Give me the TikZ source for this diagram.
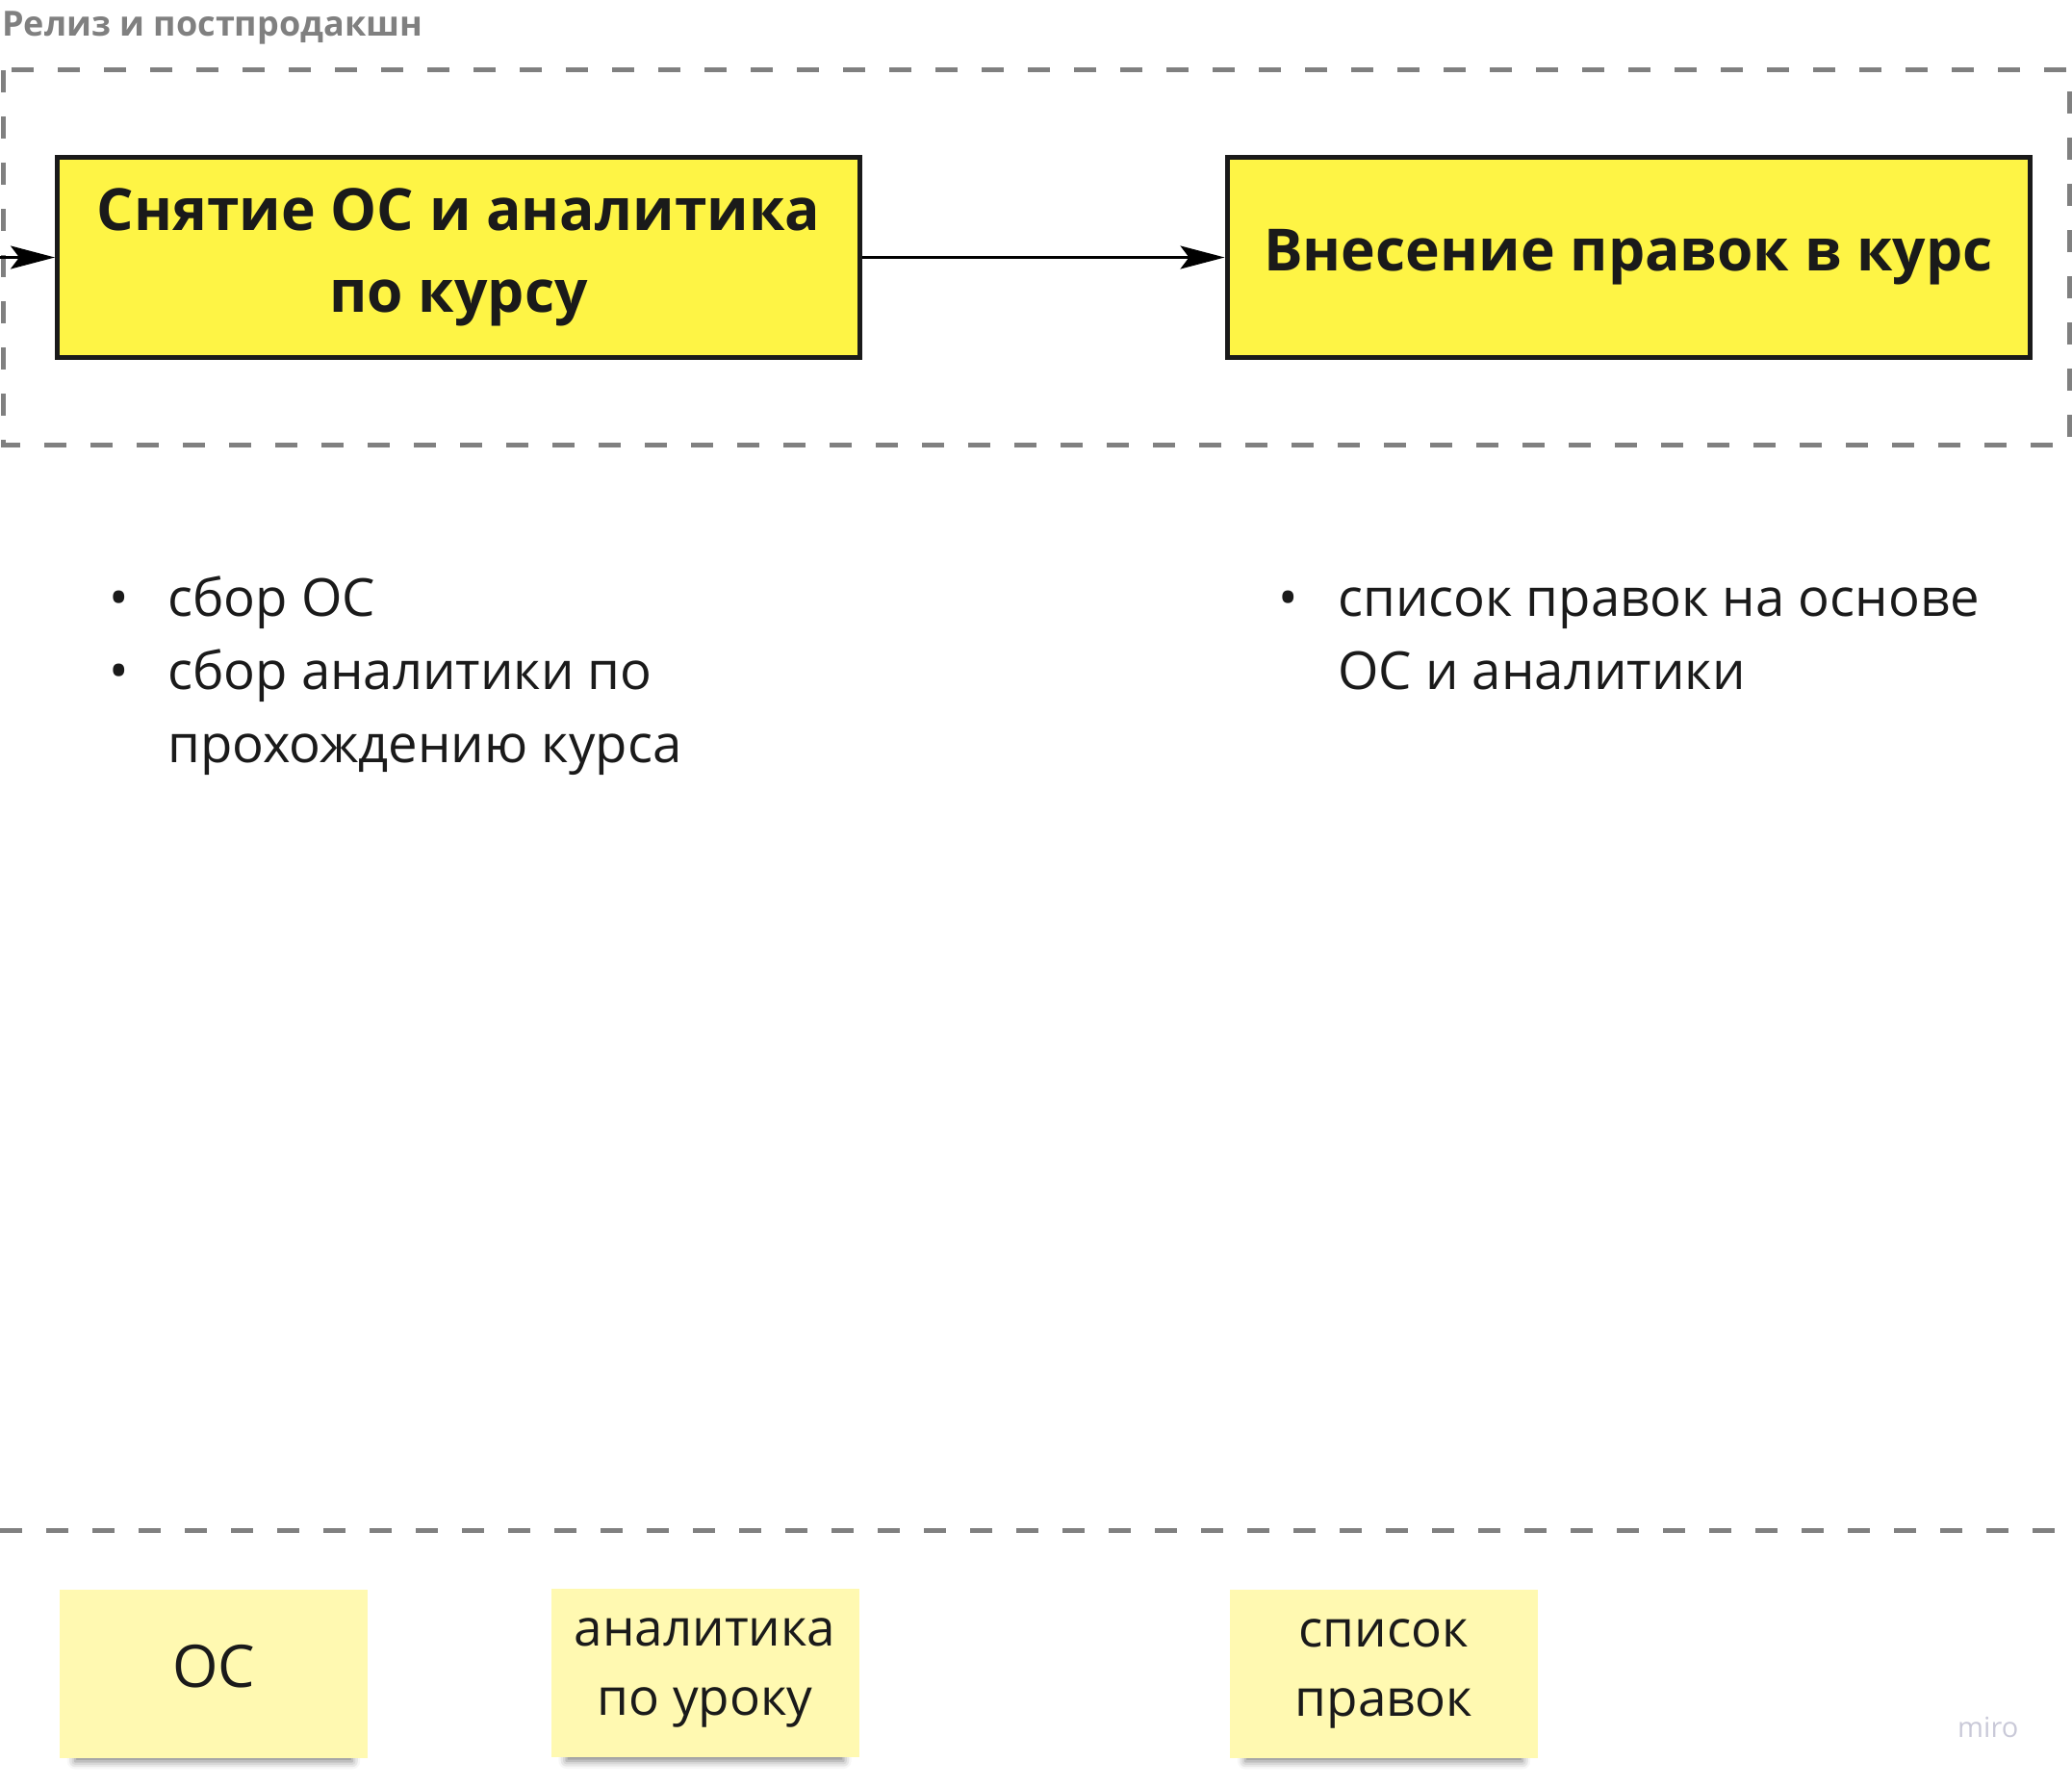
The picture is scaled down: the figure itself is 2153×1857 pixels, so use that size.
\documentclass[tikz,border=0pt]{standalone}
\usepackage{fontspec}
\setmainfont{Open Sans}
\usetikzlibrary{arrows.meta,positioning,shadows.blur}
\definecolor{framegray}{HTML}{808080}
\definecolor{stageyellow}{HTML}{FEF445}
\definecolor{ink}{HTML}{1A1A1A}
\definecolor{stickyyellow}{HTML}{FFF9B1}
\definecolor{brandgray}{HTML}{C9C9D8}

\begin{document}
\begin{tikzpicture}[x=1pt,y=-1pt,
    frame/.style={draw=framegray,line width=5pt,dash pattern=on 23pt off 25pt},
    stage/.style={draw=ink,line width=5pt,fill=stageyellow,text=ink,minimum width=834pt,minimum height=208pt,inner sep=0pt,align=center,font=\fontsize{60.5}{85}\selectfont\bfseries},
    flow/.style={-{Stealth[length=46pt,width=24pt,inset=9pt]},line width=2.5pt,draw=black},
    item/.style={anchor=base west,inner sep=0pt,text=ink,font=\fontsize{54.5}{76}\selectfont},
    dot/.style={anchor=base,inner sep=0pt,text=ink,font=\fontsize{54.5}{76}\selectfont},
    sticky/.style={fill=stickyyellow,text=ink,minimum width=320pt,minimum height=175pt,inner sep=0pt,align=center,font=\fontsize{53}{72}\selectfont,
        blur shadow={shadow xshift=0pt,shadow yshift=-14pt,shadow scale=0.9,shadow blur radius=9pt,shadow opacity=50}}]
        \useasboundingbox (0,0) rectangle (2153,1857);
        \node[anchor=base west,inner sep=0pt,text=framegray,font=\fontsize{36}{42}\selectfont\bfseries] (title) at (2,38) {Релиз и постпродакшн};
        \draw[frame] (3,73) rectangle (2150,462);
        \node[stage] (collect) at (476.5,267.5) {Снятие ОС и аналитика\\по курсу};
        \node[stage] (revise) at (1692,267.5) {Внесение правок в курс};
        \coordinate (entry) at (0,267.5);
        \draw[flow] (entry) -- (collect);
        \draw[flow] (collect) -- (revise);
        \draw[frame] (0,1590) -- (2153,1590);
        \node[dot] (b1) at (124,640) {•};
        \node[item] (l1) at (174,640) {сбор ОС};
        \node[dot] (b2) at (124,716) {•};
        \node[item] (l2) at (174,716) {сбор аналитики по};
        \node[item] (l3) at (174,792) {прохождению курса};
        \node[dot] (b3) at (1339,640) {•};
        \node[item] (r1) at (1390,640) {список правок на основе};
        \node[item] (r2) at (1390,716) {ОС и аналитики};
        \node[sticky,font=\fontsize{61}{72}\selectfont,text depth=16pt] (os) at (222,1739) {ОС};
        \node[sticky] (stats) at (732.5,1738.5) {аналитика\\по уроку};
        \node[sticky] (fixes) at (1438,1739) {список\\правок};
        \node[anchor=base west,inner sep=0pt,text=brandgray,font=\fontsize{29}{32}\selectfont] (brand) at (2034,1805) {miro};
    \end{tikzpicture}
\end{document}
